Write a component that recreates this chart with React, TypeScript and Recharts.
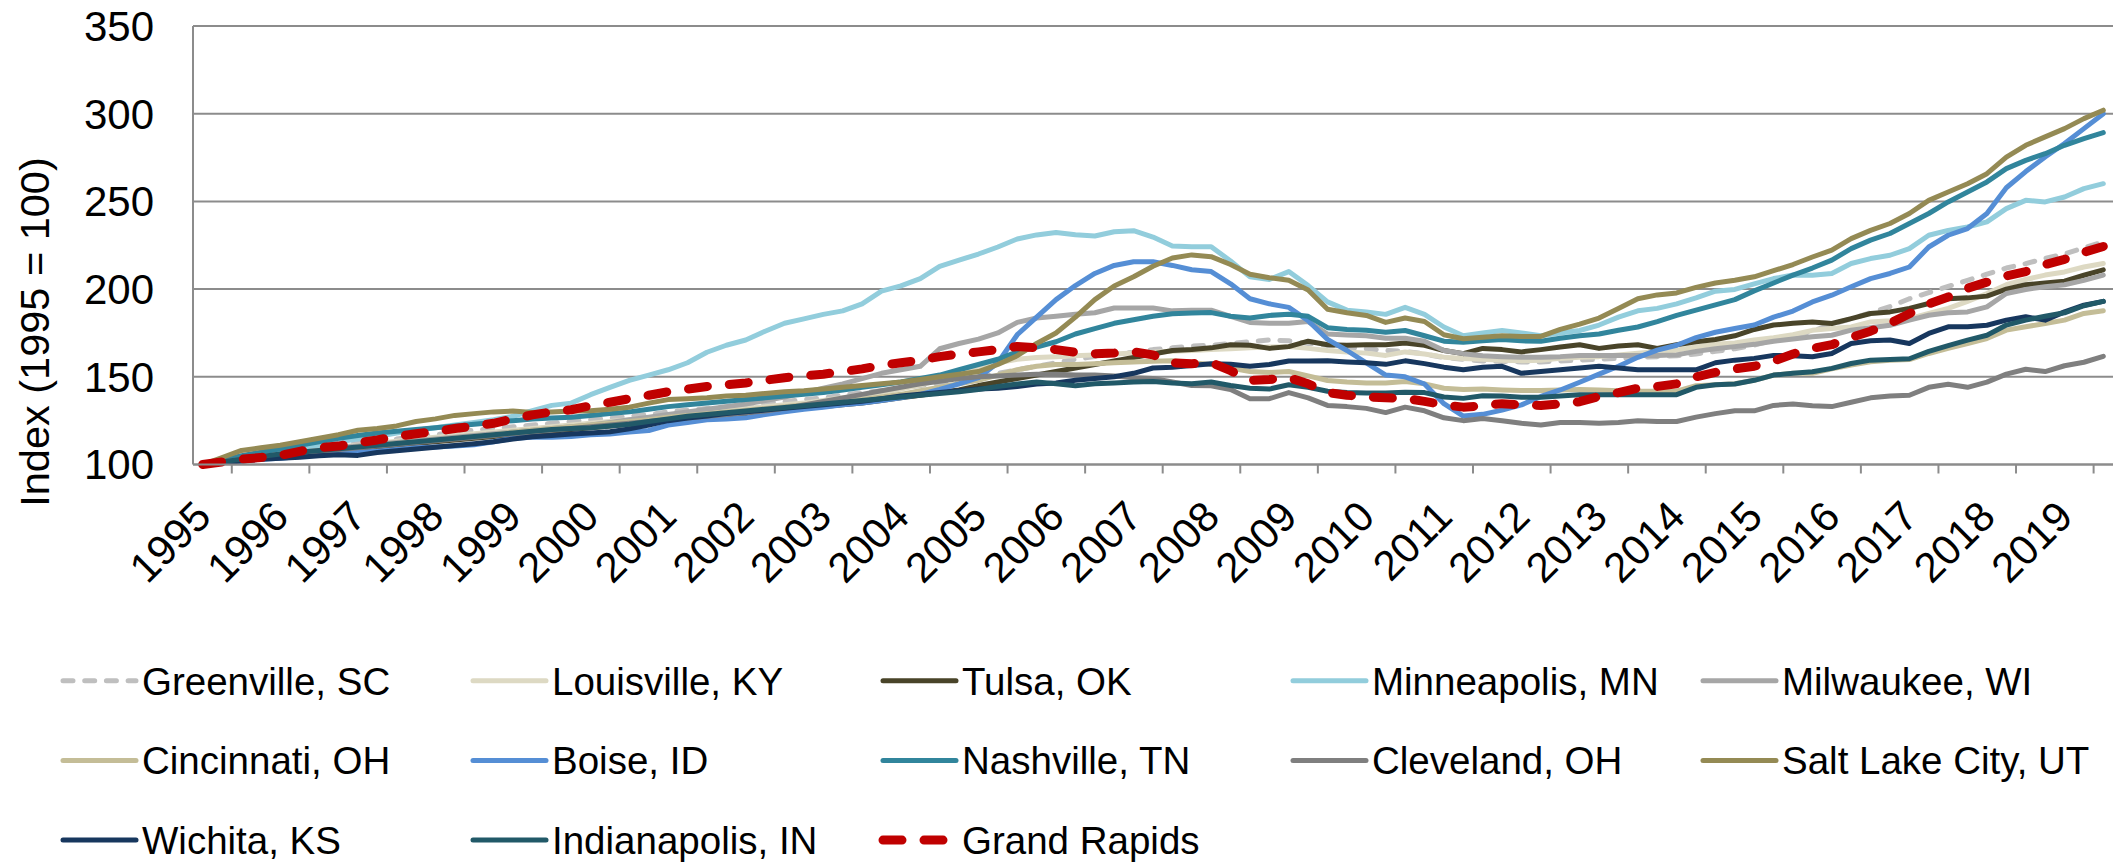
import { LineChart, Line, XAxis, YAxis, CartesianGrid } from 'recharts';

// quarterly house price index, 1995 Q1 .. 2019 Q3 (1995 = 100)
const YEARS = [
  '1995', '1996', '1997', '1998', '1999', '2000', '2001', '2002', '2003', '2004', '2005', '2006', '2007',
  '2008', '2009', '2010', '2011', '2012', '2013', '2014', '2015', '2016', '2017', '2018', '2019',
];

const GREENVILLE = [
  100, 101.5, 103, 104.5, 106, 107.5, 109, 110.5, 112, 113, 114.5, 116, 117, 118.5, 119.5, 120.5,
  121.5, 122.5, 123.5, 124.5, 125.5, 126.5, 127.5, 128.5, 130, 131, 132, 133, 134, 135, 136, 137,
  138, 139.5, 141, 142, 143.5, 145, 146.5, 148, 150, 152, 154, 156, 158, 160, 161.5, 163,
  164, 165.5, 166.5, 167.5, 168, 169, 170, 171, 170.5, 169, 168, 167, 166, 165, 164.5, 163,
  161, 160, 159, 158.7, 158.5, 158.5, 159, 159.5, 160, 160.5, 161, 161.5, 162, 163, 164.5, 166,
  168, 171, 173, 176, 180, 183, 186.5, 190, 194.5, 198, 201.5, 205, 208.5, 212, 214.5, 217.5,
  220, 223.5, 226.9,
];

const LOUISVILLE = [
  100, 101.8, 103.5, 105, 106.5, 107.8, 109, 110, 111, 112, 113.2, 114.5, 115.5, 116.5, 117.5, 118.5,
  119.5, 120.5, 121.5, 122.5, 123.5, 124.5, 125.5, 126.5, 128, 129, 130, 131, 132, 133, 134, 135,
  136.5, 138, 139.5, 141, 143, 145.5, 148, 151, 155, 158, 160, 161, 161.5, 162, 162.5, 163,
  163.5, 164, 164.5, 165, 165.5, 166, 166.5, 167, 167.2, 166.2, 165, 164.2, 163.5, 162.2, 164.2, 163,
  161.2, 160.5, 160, 159.5, 159.1, 159.5, 160.5, 161.2, 161.5, 162.5, 163.5, 164.5, 165.2, 167, 168.5, 169.3,
  171, 172.3, 174, 176.5, 177.5, 178.4, 181.3, 182, 183.2, 186.1, 189, 193, 197.5, 202.5, 205.5, 208,
  209.8, 212.6, 214.6,
];

const TULSA = [
  100, 101.5, 103, 104, 105, 106, 107, 108, 109, 110, 111, 112, 113, 114, 115, 116,
  117, 118, 119, 120, 121, 122, 123, 124, 125, 126, 127, 128, 129, 130, 131, 132,
  133, 134, 135, 136.5, 138, 139.5, 141, 142.5, 145, 147, 149, 151, 153, 155, 157, 159,
  161, 163, 165, 165.6, 166.5, 168.3, 168, 166.2, 167.2, 170.3, 168.3, 168, 168.3, 168.3, 169.3, 168,
  165, 163.2, 166.2, 165.5, 164.2, 165.5, 167, 168.3, 166.2, 167.5, 168.3, 166.2, 168.3, 170, 171.3, 173.4,
  177, 179.5, 180.5, 181.3, 180.4, 183.2, 186.1, 187, 189, 191.8, 194.5, 195, 196, 200, 202.5, 203.5,
  204.5, 207.9, 211,
];

const MINNEAPOLIS = [
  100, 102, 104, 106, 107.5, 109.5, 111, 113, 114.5, 116, 118, 119.5, 121, 122.5, 124, 125.5,
  127.5, 130.7, 133.7, 135, 139.8, 144, 148, 151, 154, 158, 164, 168, 171, 176, 180.5, 183,
  185.6, 187.6, 191.6, 198.8, 201.8, 206, 213, 216.5, 220, 224, 228.6, 230.9, 232.3, 231, 230.3, 232.7,
  233.3, 229.7, 224.6, 224.2, 224.2, 216, 207, 205.5, 210, 202, 192.7, 188, 187, 185.6, 189.6, 185.6,
  178.4, 173.4, 175, 176.4, 175, 173.4, 175, 176.4, 179.5, 184, 187.6, 189, 191.6, 195, 198.8, 199.8,
  203, 206, 208, 207.9, 208.9, 214.6, 217.4, 219.3, 223.1, 230.7, 233.5, 235.4, 238.3, 245.9, 250.6, 249.7,
  252.5, 257.3, 260.1,
];

const MILWAUKEE = [
  100, 101.5, 103, 104.5, 106, 107, 108, 109.5, 110.5, 111.5, 112.5, 113.5, 114.5, 115.5, 116.5, 117.5,
  118.5, 119.5, 120.5, 121.5, 122.5, 124, 125.5, 127, 128.5, 130, 131.5, 133, 134.5, 136.5, 138.5, 141,
  143.5, 146, 149, 152, 154, 156, 166, 169, 171.5, 175, 181, 183.5, 184.5, 185.6, 186.5, 189.2,
  189.2, 189.2, 187.6, 188, 188, 184.5, 181, 180.5, 180.5, 181.5, 174.4, 173.8, 173.4, 172, 172, 170.3,
  165, 163.2, 162, 161.5, 161.2, 161.2, 161.5, 162.2, 162.2, 162.2, 162.2, 162.2, 162.5, 164.5, 166, 167.2,
  168.5, 170.3, 171.5, 172.8, 173.7, 176.6, 178, 179.4, 182.3, 185.1, 186.5, 187, 189.9, 197.5, 199.8, 201.3,
  202.5, 205, 208,
];

const CINCINNATI = [
  100, 101.5, 103, 104.5, 105.5, 106.5, 107.5, 108.5, 110, 111, 112, 113, 114, 115, 116, 117,
  118.5, 119.5, 120.5, 121.5, 122.5, 123.5, 124.5, 125.5, 127, 128, 129, 130, 131, 132, 133, 134,
  135, 136, 137, 138.5, 140, 142, 144, 146, 148, 151, 154, 156, 157, 157, 157.5, 158,
  158.5, 158.8, 159.1, 158, 157, 155, 153, 152.5, 153, 150.5, 147.9, 147, 146.5, 146.5, 147.3, 146,
  143.5, 142.8, 143, 142.5, 142.2, 142.2, 142.5, 142.8, 142.5, 142, 141.8, 141.8, 141.8, 144.9, 145.5, 146,
  148, 151, 152, 152, 154.5, 156.7, 158.6, 159.5, 159.8, 163.3, 166.2, 169, 171.8, 176.6, 178.5, 180.4,
  182.3, 186.1, 187.6,
];

const BOISE = [
  100, 101, 102, 103, 103.5, 104.5, 105.5, 106.5, 107, 107.5, 108.5, 109.5, 110, 110.5, 111.3, 113,
  115, 115.5, 115.5, 116, 117, 117.4, 118.5, 119.4, 122.5, 124, 125.5, 126, 126.6, 128.5, 130, 131.5,
  132.7, 134, 135, 136.5, 138, 140, 142.8, 146, 149.5, 158, 174, 184, 194, 202, 208.9, 213.5,
  215.6, 215.6, 213.5, 211, 210, 203, 194.5, 191.6, 189.6, 182, 171.3, 165, 158, 151, 150, 145.9,
  134.7, 127.6, 128.6, 131, 134, 138.8, 142.5, 146.9, 151.5, 156, 161.1, 165.2, 168, 172.3, 175.4, 177.5,
  179.5, 184, 187.5, 192.7, 196.5, 201.3, 206, 208.9, 212.6, 224, 230.7, 234.5, 243.1, 257.8, 267, 275.3,
  283, 291.5, 300,
];

const NASHVILLE = [
  100, 102.5, 105, 107, 109, 111, 113, 115, 116.5, 118, 119, 120, 121, 122, 123, 124,
  125, 126, 126.5, 127, 128, 129, 130, 131.5, 133, 134, 135, 136, 137, 138, 139, 140,
  141, 142.5, 144, 145.5, 147, 149, 151, 154, 157, 160, 164.2, 167, 170, 174.4, 177.5, 180.5,
  182.5, 184.5, 186, 186.4, 186.6, 184.5, 183.5, 185, 185.6, 184.5, 178, 177, 176.5, 175.4, 176.4, 173.4,
  170.3, 169.7, 170.5, 171.3, 170.5, 170.3, 172, 173.4, 174.4, 176.5, 178.4, 181.5, 185, 188, 191, 194,
  199, 203.5, 208, 212, 216.5, 223.1, 227.9, 231.7, 237.4, 243.1, 249.7, 255.4, 261.1, 268.7, 273.4, 277.2,
  282, 285.8, 289.2,
];

const CLEVELAND = [
  100, 101.5, 103, 104.5, 105.5, 106.5, 107.5, 108.5, 109.5, 110.5, 111.5, 112.5, 113.5, 114.5, 115.5, 116.5,
  117.5, 118.5, 119.5, 120.5, 121.5, 122.5, 123.5, 124.5, 125.5, 126.5, 127.5, 128.5, 129.5, 130.5, 132, 134,
  136, 138, 140, 142, 144, 146, 147.5, 149, 150, 150.5, 151, 151.4, 151.4, 151, 151, 150.5,
  149.5, 149, 147, 145, 144.9, 142.8, 137.5, 137.5, 141, 138, 133.7, 133, 132, 129.6, 132.7, 130.6,
  126.6, 125, 126.2, 125, 123.5, 122.5, 124, 124, 123.5, 124, 125, 124.5, 124.5, 127, 129, 130.6,
  130.6, 133.7, 134.5, 133.5, 133, 135.5, 138, 139, 139.5, 144, 145.8, 144, 147, 151.5, 154.3, 153,
  156.3, 158.3, 161.7,
];

const SALT_LAKE = [
  100, 104, 108, 109.5, 111, 113, 115, 117, 119.5, 120.5, 122, 124.5, 126, 128, 129, 130,
  130.5, 129.6, 130, 130.5, 130.6, 131.5, 132.7, 135, 137, 137.5, 138, 139, 139.5, 140.5, 141.5, 142,
  143, 144, 145, 146, 147, 148.5, 150, 151.5, 153, 157, 162, 169, 175, 184, 194, 201.8,
  207, 213, 217.7, 219.5, 218.5, 214, 208.5, 206.5, 205, 199.5, 188.5, 186.5, 185, 181, 183.5, 181.5,
  174, 171.7, 172.5, 173.4, 173, 173, 177, 180, 183.5, 189, 194.5, 196.7, 197.8, 201, 203.5, 205,
  207, 210.5, 214, 218.3, 222.2, 228.8, 233.5, 237.4, 243.1, 250.6, 255.4, 260.1, 265.8, 275.3, 282, 286.8,
  291.5, 297.2, 302,
];

const WICHITA = [
  100, 101, 102, 103, 103.5, 104.2, 105, 105.6, 105.2, 106.8, 107.8, 108.8, 109.8, 110.8, 111.8, 113,
  114.5, 115.8, 116.5, 117.4, 118, 118.7, 120.3, 122.5, 125, 126.5, 127.6, 129, 130, 131, 132, 133,
  134, 135, 136, 137.5, 139, 140, 141, 142, 143, 143.5, 144.5, 145.9, 146.5, 148, 149, 150,
  152, 155, 155.4, 156.5, 157.5, 157.1, 156, 157, 159, 159, 159.1, 158.5, 158, 157.1, 159.1, 157.5,
  155.5, 154, 155.5, 156, 152, 153, 154, 155, 156, 155, 154, 154, 154, 154, 158, 159.5,
  160.5, 162.2, 162, 161.4, 163.3, 169, 170.5, 171, 169, 174.7, 178.5, 178.5, 179.4, 182.3, 184.2, 182.3,
  187, 190.8, 193,
];

const INDIANAPOLIS = [
  100, 101.5, 103, 104.5, 106, 107, 108, 109, 110, 111, 112, 113, 114, 115, 116, 117,
  118, 119, 120, 120.5, 121, 122, 123, 124.5, 126, 127.5, 128.5, 129.5, 130.5, 131.5, 132.5, 133.5,
  134.5, 135.5, 136.5, 137.5, 138.5, 139.5, 140.5, 141.5, 142.8, 144.5, 145.9, 147, 146, 144.9, 146, 146.5,
  147, 147.3, 146.5, 146, 147, 145, 143.5, 143, 145.5, 144, 141.8, 141, 140.8, 140.8, 141.2, 141,
  138.5, 137.7, 139.2, 139, 138.4, 138.4, 139, 139.8, 139.8, 139.8, 139.8, 139.8, 139.8, 144, 145.5, 145.9,
  148, 151, 152, 152.9, 154.8, 157.6, 159.5, 159.9, 160.3, 164.5, 167.8, 170.9, 173.7, 179.5, 182.3, 184.5,
  186.5, 190.5, 193,
];

const GRAND_RAPIDS = [
  100, 101.5, 103, 104, 105.2, 107.5, 109.5, 110.5, 112.4, 114, 116, 117.5, 118.8, 120.5, 122, 123.5,
  126, 128.3, 130, 131.2, 133.5, 135.5, 137.5, 139.5, 141.5, 143, 144.5, 145.5, 146.5, 148, 149.5, 150.5,
  151.5, 153, 154.5, 156.5, 158, 159.5, 161.5, 163, 164.2, 165.5, 167.3, 166.5, 165.5, 164, 163.2, 163.5,
  164.2, 162.5, 158, 157.5, 158.1, 153.5, 148, 148.5, 149.5, 146, 141, 139.5, 138.5, 138, 137.7, 136,
  134, 132.7, 133.5, 134.7, 134, 133.7, 134.5, 135.8, 138.8, 141, 143.5, 144.5, 146, 150, 152.5, 154.5,
  156, 159, 163, 166.2, 168.3, 172.5, 176, 180.5, 186, 191.5, 195.5, 200.5, 204, 207.5, 210, 214,
  217, 221, 224.3,
];

const SERIES = [
  { key: 'greenville', name: 'Greenville, SC', color: '#BFBFBF', width: 5, dash: '10 11.7', values: GREENVILLE },
  { key: 'louisville', name: 'Louisville, KY', color: '#DDD9C3', width: 5, values: LOUISVILLE },
  { key: 'tulsa', name: 'Tulsa, OK', color: '#494429', width: 5, values: TULSA },
  { key: 'minneapolis', name: 'Minneapolis, MN', color: '#92CDDC', width: 5, values: MINNEAPOLIS },
  { key: 'milwaukee', name: 'Milwaukee, WI', color: '#A6A6A6', width: 5, values: MILWAUKEE },
  { key: 'cincinnati', name: 'Cincinnati, OH', color: '#C4BD97', width: 5, values: CINCINNATI },
  { key: 'boise', name: 'Boise, ID', color: '#558ED5', width: 5, values: BOISE },
  { key: 'nashville', name: 'Nashville, TN', color: '#31859C', width: 5, values: NASHVILLE },
  { key: 'cleveland', name: 'Cleveland, OH', color: '#7F7F7F', width: 5, values: CLEVELAND },
  { key: 'saltlake', name: 'Salt Lake City, UT', color: '#948A54', width: 5, values: SALT_LAKE },
  { key: 'wichita', name: 'Wichita, KS', color: '#17375E', width: 5, values: WICHITA },
  { key: 'indianapolis', name: 'Indianapolis, IN', color: '#215968', width: 5, values: INDIANAPOLIS },
  { key: 'grandrapids', name: 'Grand Rapids', color: '#C00000', width: 9, dash: '19 22', values: GRAND_RAPIDS },
];

const rows = GRAND_RAPIDS.map((_, i) => {
  const row: Record<string, number> = { i };
  SERIES.forEach((s) => {
    row[s.key] = s.values[i];
  });
  return row;
});

const FONT = '"Liberation Sans", Arial, sans-serif';
const AXIS = '#8C8C8C';
const W = 2113;
const H = 862;

// labels on the first quarter of every year, tick marks between them
const xTicks: number[] = [];
YEARS.forEach((_, k) => {
  xTicks.push(k * 4);
  if (k * 4 + 1.5 < 98.5) xTicks.push(k * 4 + 1.5);
});

const XTick = (props: any) => {
  const { x, y, payload } = props;
  const v = payload.value;
  if (v % 4 === 0) {
    const ty = y + 44;
    return (
      <text
        x={x}
        y={ty}
        dy="0.355em"
        transform={`rotate(-45 ${x} ${ty})`}
        textAnchor="end"
        fontSize={42}
        fontFamily={FONT}
        fill="#000"
      >
        {YEARS[v / 4]}
      </text>
    );
  }
  return <line x1={x} x2={x} y1={y} y2={y + 9} stroke={AXIS} strokeWidth={2} />;
};

const YTick = (props: any) => {
  const { x, y, payload } = props;
  return (
    <text x={x - 39} y={y} dy="0.355em" textAnchor="end" fontSize={42} fontFamily={FONT} fill="#000">
      {payload.value}
    </text>
  );
};

export default function App() {
  return (
    <div style={{ position: 'absolute', left: 0, top: 0, width: W, height: H, background: '#fff', overflow: 'hidden' }}>
      <LineChart width={W} height={H} data={rows} margin={{ top: 26, right: 0, left: 0, bottom: 337.5 }}>
        <CartesianGrid vertical={false} stroke={AXIS} strokeWidth={2} />
        <XAxis
          dataKey="i"
          type="number"
          domain={[-0.5, 98.5]}
          allowDataOverflow
          ticks={xTicks}
          interval={0}
          tick={XTick}
          tickLine={false}
          tickSize={0}
          tickMargin={0}
          height={60}
          axisLine={{ stroke: AXIS, strokeWidth: 2 }}
        />
        <YAxis
          type="number"
          domain={[100, 350]}
          ticks={[100, 150, 200, 250, 300, 350]}
          interval={0}
          width={193}
          tick={YTick}
          tickLine={false}
          tickSize={0}
          tickMargin={0}
          axisLine={{ stroke: AXIS, strokeWidth: 2 }}
        />
        {SERIES.map((s) => (
          <Line
            key={s.key}
            dataKey={s.key}
            name={s.name}
            type="linear"
            stroke={s.color}
            strokeWidth={s.width}
            strokeDasharray={s.dash}
            strokeLinecap="round"
            strokeLinejoin="round"
            dot={false}
            activeDot={false}
            isAnimationActive={false}
          />
        ))}
      </LineChart>
      <svg width={W} height={H} style={{ position: 'absolute', left: 0, top: 0, pointerEvents: 'none' }}>
        <text
          x={49}
          y={332}
          transform="rotate(-90 49 332)"
          textAnchor="middle"
          fontSize={41.5}
          fontFamily={FONT}
          fill="#000"
        >
          Index (1995 = 100)
        </text>
        {SERIES.map((s, n) => {
          const col = n % 5;
          const row = Math.floor(n / 5);
          const lx = 63 + col * 410;
          const ly = 680.7 + row * 79.7;
          return (
            <g key={s.key}>
              <line
                x1={lx}
                x2={lx + 73}
                y1={ly}
                y2={ly}
                stroke={s.color}
                strokeWidth={s.width}
                strokeDasharray={s.dash}
                strokeLinecap="round"
              />
              <text x={lx + 79} y={ly + 13.8} fontSize={38.5} fontFamily={FONT} fill="#000">
                {s.name}
              </text>
            </g>
          );
        })}
      </svg>
    </div>
  );
}
